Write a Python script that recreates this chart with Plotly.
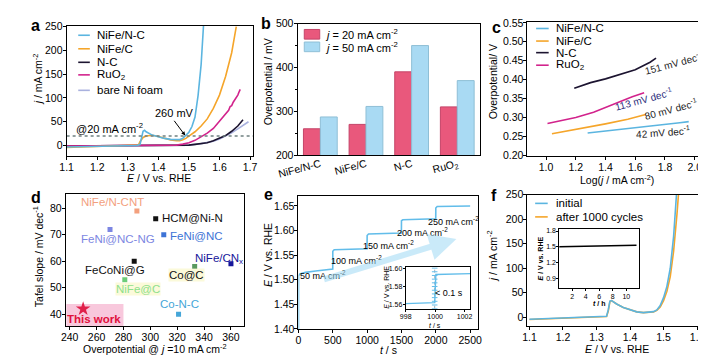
import plotly.graph_objects as go

W, H = 706, 355
FONT = 'Arial, Liberation Sans, sans-serif'

# ---------------- data ----------------
# (a) polarisation curves, E / V vs RHE and j / mA cm-2
a_E_nifenc = [1.10, 1.15, 1.20, 1.25, 1.30, 1.33, 1.34, 1.345, 1.35, 1.355, 1.36, 1.38, 1.40, 1.42, 1.44,
              1.46, 1.47, 1.48, 1.49, 1.50, 1.51, 1.52, 1.53, 1.54, 1.55]
a_j_nifenc = [-3, -2, -1.5, -1, -0.5, 0, 2, 16, 30, 32, 29, 22, 18, 15, 13,
              12, 12.5, 15, 21, 28, 40, 60, 105, 170, 275]
a_E_nifec = [1.10, 1.15, 1.20, 1.25, 1.30, 1.33, 1.335, 1.34, 1.35, 1.36, 1.37, 1.38, 1.40, 1.42, 1.44,
             1.46, 1.47, 1.48, 1.49, 1.50, 1.52, 1.54, 1.56, 1.58, 1.60, 1.62, 1.64, 1.655]
a_j_nifec = [-4, -3, -2, -1, -0.5, 0, 1, 8, 17, 20, 21.5, 21.5, 19, 15, 12,
             10, 10, 12, 15, 20, 29, 41, 56, 78, 106, 145, 195, 250]
a_E_nc = [1.10, 1.20, 1.30, 1.40, 1.46, 1.50, 1.52, 1.54, 1.56, 1.58, 1.60, 1.62, 1.64, 1.66, 1.677]
a_j_nc = [-1, -0.5, -0.5, 0, 0.3, 1, 2.5, 4, 6, 10, 15, 21, 30, 41, 54]
a_E_ruo2 = [1.10, 1.20, 1.30, 1.40, 1.44, 1.46, 1.48, 1.50, 1.52, 1.54, 1.56, 1.58, 1.60, 1.61, 1.615,
            1.62, 1.625, 1.63, 1.635, 1.64, 1.645, 1.65, 1.655, 1.66, 1.665, 1.668]
a_j_ruo2 = [-1, -0.5, 0, 0, 0.5, 1, 3, 6, 11, 18, 26, 36, 52, 58, 63,
            67, 71, 74, 82, 84, 91, 96, 103, 106, 114, 118]
a_E_ni = [1.10, 1.20, 1.30, 1.40, 1.46, 1.50, 1.54, 1.58, 1.60, 1.62, 1.64, 1.66, 1.68, 1.695]
a_j_ni = [-1, -0.5, -0.3, 0, 0.3, 1, 4, 9, 14, 20, 27, 35, 43, 50]
a_ref_j = 20

# (b) overpotentials / mV
b_cats = ['NiFe/N-C', 'NiFe/C', 'N-C', 'RuO<sub>2</sub>']
b_eta20 = [260, 270, 390, 310]
b_eta50 = [287, 311, 450, 370]

# (c) Tafel plots
c_x_nifenc = [1.28, 1.45, 1.60, 1.75, 1.90, 1.96]
c_y_nifenc = [0.259, 0.266, 0.273, 0.280, 0.286, 0.289]
c_x_nifec = [1.04, 1.20, 1.40, 1.55, 1.67]
c_y_nifec = [0.257, 0.268, 0.283, 0.295, 0.308]
c_x_nc = [1.19, 1.30, 1.40, 1.50, 1.60, 1.70, 1.74]
c_y_nc = [0.377, 0.392, 0.402, 0.413, 0.426, 0.446, 0.457]
c_x_ruo2 = [1.01, 1.10, 1.20, 1.32, 1.42, 1.50, 1.58, 1.66]
c_y_ruo2 = [0.284, 0.291, 0.300, 0.314, 0.330, 0.343, 0.355, 0.365]
c_slopes = ['151 mV dec<sup>-1</sup>', '113 mV dec<sup>-1</sup>', '80 mV dec<sup>-1</sup>', '42 mV dec<sup>-1</sup>']

# (d) comparison with literature
d_names = ['NiFe/N-CNT', 'HCM@Ni-N', 'FeNi@NC-NG', 'FeNi@NC', 'NiFe/CN<sub>x</sub>',
           'FeCoNi@G', 'Co@C', 'NiFe@C', 'Co-N-C']
d_eta = [290, 304, 270, 310, 360, 288, 333, 281, 321]
d_tafel = [79, 76, 72, 70, 59, 60, 58, 53, 40]
d_colors = ['#f3a07e', '#111111', '#7c86e2', '#3d73d6', '#16169a', '#111111', '#5a9a60', '#6ccc78', '#45a6d8']
d_this_eta = [250]
d_this_tafel = [42]

# (e) multi-step chronopotentiometry
e_t = [0, 1, 20, 100, 250, 499, 500, 520, 999, 1000, 1020, 1499, 1500, 1520, 1999, 2000, 2020, 2500]
e_E = [1.40, 1.508, 1.512, 1.515, 1.518, 1.522, 1.558, 1.561, 1.563, 1.590, 1.593, 1.595,
       1.620, 1.622, 1.624, 1.646, 1.649, 1.650]
e_steps = ['50 mA cm<sup>-2</sup>', '100 mA cm<sup>-2</sup>', '150 mA cm<sup>-2</sup>',
           '200 mA cm<sup>-2</sup>', '250 mA cm<sup>-2</sup>']
e_in_t = [998, 998.5, 999, 999.5, 999.9, 999.97, 1000.05, 1000.5, 1001, 1001.5, 1002.4]
e_in_E = [1.5615, 1.5617, 1.562, 1.5622, 1.5625, 1.5625, 1.593, 1.5932, 1.5935, 1.5937, 1.594]
e_jump_t = [999.97] * 12
e_jump_E = [1.556, 1.560, 1.564, 1.568, 1.572, 1.576, 1.580, 1.584, 1.588, 1.592, 1.596, 1.600]

# (f) stability
f_E = [1.10, 1.15, 1.20, 1.25, 1.30, 1.32, 1.33, 1.335, 1.34, 1.345, 1.35, 1.36, 1.38, 1.40, 1.42,
       1.44, 1.46, 1.47, 1.48, 1.49, 1.50, 1.51, 1.52, 1.53, 1.54, 1.55]
f_j_init = [-4, -3, -2, -1, 0, 0.5, 2, 15, 33, 34, 31, 27, 20, 15, 11,
            9.5, 10, 11.5, 15, 24, 40, 63, 100, 165, 265, 380]
f_j_after = [-4.5, -3.5, -2.5, -1.5, -0.5, 0.3, 1.5, 12, 32, 34, 31, 27, 20, 15, 11,
             9.5, 10, 11, 14, 21, 34, 53, 83, 135, 210, 300]
f_in_t = [0, 2, 4, 6, 8, 10, 11.5]
f_in_E = [1.50, 1.505, 1.51, 1.515, 1.52, 1.525, 1.53]

C_BLUE = '#5bb5e0'
C_ORANGE = '#f5a52a'
C_NC = '#1c1430'
C_RUO2 = '#d2238c'
C_NI = '#a9b1de'
C_RED = '#e9587c'
C_LBLUE = '#a9daf3'
FS = 10.5   # main tick/title font size
FI = 7      # inset font size


def xd(x0, x1):
    return [x0 / W, x1 / W]


def yd(ytop, ybot):
    return [1 - ybot / H, 1 - ytop / H]


def ax(domain, anchor, **kw):
    d = dict(domain=domain, anchor=anchor, showline=True, linecolor='black', linewidth=1, mirror=True,
             ticks='outside', ticklen=3, tickwidth=1, tickcolor='black', showgrid=False, zeroline=False,
             ticklabelstandoff=-2, tickfont=dict(size=FS, color='black'))
    d.update(kw)
    return d


def inset_ax(domain, anchor, **kw):
    return ax(domain, anchor, ticklen=2, ticklabelstandoff=-1, tickfont=dict(size=FI, color='black'), **kw)


fig = go.Figure()

# ---- a
for E, j, c in [(a_E_ni, a_j_ni, C_NI), (a_E_nc, a_j_nc, C_NC), (a_E_ruo2, a_j_ruo2, C_RUO2),
                (a_E_nifec, a_j_nifec, C_ORANGE), (a_E_nifenc, a_j_nifenc, C_BLUE)]:
    fig.add_trace(go.Scatter(x=E, y=j, mode='lines', line=dict(color=c, width=1.6), xaxis='x', yaxis='y',
                             showlegend=False))
fig.add_trace(go.Scatter(x=[1.1, 1.71], y=[a_ref_j, a_ref_j], mode='lines',
                         line=dict(color='#6f8080', width=1.4, dash='dot'), xaxis='x', yaxis='y', showlegend=False))

# ---- b
fig.add_trace(go.Bar(x=b_cats, y=b_eta20, marker=dict(color=C_RED, line=dict(color='#c44468', width=1)),
                     xaxis='x2', yaxis='y2', showlegend=False))
fig.add_trace(go.Bar(x=b_cats, y=b_eta50, marker=dict(color=C_LBLUE, line=dict(color='#8fbfd6', width=1)),
                     xaxis='x2', yaxis='y2', showlegend=False))

# ---- c
for X, Y, c in [(c_x_nifenc, c_y_nifenc, C_BLUE), (c_x_nifec, c_y_nifec, C_ORANGE),
                (c_x_nc, c_y_nc, C_NC), (c_x_ruo2, c_y_ruo2, C_RUO2)]:
    fig.add_trace(go.Scatter(x=X, y=Y, mode='lines', line=dict(color=c, width=1.6), xaxis='x3', yaxis='y3',
                             showlegend=False))

# ---- d
fig.add_trace(go.Scatter(x=d_eta, y=d_tafel, mode='markers', marker=dict(symbol='square', size=5, color=d_colors),
                         xaxis='x4', yaxis='y4', showlegend=False))
fig.add_trace(go.Scatter(x=d_this_eta, y=d_this_tafel, mode='markers',
                         marker=dict(symbol='star', size=11, color='#e0204a'),
                         xaxis='x4', yaxis='y4', showlegend=False))

# ---- e
fig.add_trace(go.Scatter(x=e_t, y=e_E, mode='lines', line=dict(color='#62bdea', width=1.6), xaxis='x5', yaxis='y5',
                         showlegend=False))
fig.add_trace(go.Scatter(x=e_jump_t, y=e_jump_E, mode='lines+markers',
                         line=dict(color='#9ab0c0', width=1, dash='dot'),
                         marker=dict(symbol='line-ew', size=4, line=dict(color='#62bdea', width=1)),
                         xaxis='x7', yaxis='y7', showlegend=False))
fig.add_trace(go.Scatter(x=e_in_t, y=e_in_E, mode='lines', line=dict(color='#62bdea', width=1.4),
                         xaxis='x7', yaxis='y7', showlegend=False))

# ---- f
fig.add_trace(go.Scatter(x=f_E, y=f_j_after, mode='lines', line=dict(color=C_ORANGE, width=1.6),
                         xaxis='x6', yaxis='y6', showlegend=False))
fig.add_trace(go.Scatter(x=f_E, y=f_j_init, mode='lines', line=dict(color=C_BLUE, width=1.6),
                         xaxis='x6', yaxis='y6', showlegend=False))
fig.add_trace(go.Scatter(x=f_in_t, y=f_in_E, mode='lines', line=dict(color='black', width=1.5),
                         xaxis='x8', yaxis='y8', showlegend=False))

fig.update_layout(
    width=W, height=H, margin=dict(l=0, r=0, t=0, b=0),
    paper_bgcolor='white', plot_bgcolor='white',
    font=dict(family=FONT, size=FS, color='black'),
    barmode='group', bargap=0.26, bargroupgap=0,
    xaxis=ax(xd(40, 233), 'y', range=[1.1, 1.71], dtick=0.1, tickformat='.1f'),
    yaxis=ax(yd(12, 147), 'x', range=[-22, 252], dtick=50),
    xaxis2=ax(xd(279, 468), 'y2', range=[-0.5, 3.5], tickangle=-15, ticks=''),
    yaxis2=ax(yd(10, 146), 'x2', range=[200, 500], dtick=100,
              minor=dict(ticks='outside', ticklen=2, dtick=50, tickcolor='black')),
    xaxis3=ax(xd(517, 704), 'y3', range=[0.875, 2.09], dtick=0.2, tickformat='.1f'),
    yaxis3=ax(yd(8, 147), 'x3', range=[0.198, 0.553], dtick=0.05, tickformat='.2f'),
    xaxis4=ax(xd(39, 224), 'y4', range=[237, 370], dtick=20),
    yaxis4=ax(yd(186, 323), 'x4', range=[35.5, 85.5], dtick=10),
    xaxis5=ax(xd(280, 466), 'y5', range=[0, 2617], dtick=500),
    yaxis5=ax(yd(188, 326), 'x5', range=[1.40, 1.671], dtick=0.05, tickformat='.2f'),
    xaxis6=ax(xd(517, 702), 'y6', range=[1.094, 1.627], dtick=0.1, tickformat='.1f'),
    yaxis6=ax(yd(187, 323), 'x6', range=[-18, 250], dtick=50),
    xaxis7=inset_ax(xd(391, 458), 'y7', range=[998, 1002.4], tickvals=[998, 1000, 1002]),
    yaxis7=inset_ax(yd(262, 305), 'x7', range=[1.556, 1.601], tickvals=[1.56, 1.58, 1.60], tickformat='.2f'),
    xaxis8=inset_ax(xd(550, 632), 'y8', range=[0.1, 11.8], tickvals=[2, 4, 6, 8, 10]),
    yaxis8=inset_ax(yd(223, 284), 'x8', range=[0.71, 1.83], tickvals=[0.9, 1.2, 1.5, 1.8], tickformat='.1f'),
)

shapes = []
ann = []


def p(x, y):
    return x / W, 1 - y / H


def leg_line(x0, x1, y, color):
    a0, b0 = p(x0, y)
    a1, _ = p(x1, y)
    shapes.append(dict(type='line', xref='paper', yref='paper', x0=a0, x1=a1, y0=b0, y1=b0,
                       line=dict(color=color, width=1.6)))


def text(x, y, s, size=11.5, color='black', xanchor='left', **kw):
    a, b = p(x, y)
    ann.append(dict(xref='paper', yref='paper', x=a, y=b, text=s, showarrow=False, xanchor=xanchor,
                    yanchor='middle', font=dict(size=size, color=color, family=FONT), **kw))


# axis titles
for s, x, y, ang, size in [
        ('<i>E</i> / V vs. RHE', 136, 170, 0, FS), ('<i>j</i> / mA cm<sup>-2</sup>', 10, 68, -90, FS),
        ('Overpotential / mV', 248, 70, -90, FS),
        ('Log(<i>j</i> / mA cm<sup>-2</sup>)', 610, 171, 0, FS), ('Overpotential/ V', 481, 70, -90, FS),
        ('Overpotential @ <i>j</i> =10 mA cm<sup>-2</sup>', 131, 346.5, 0, FS),
        ('Tafel slope / mV dec<sup>-1</sup>', 10, 251, -90, FS),
        ('<i>t</i> / s', 373, 347.5, 0, FS), ('<i>E</i> / V vs. RHE', 248, 250, -90, FS),
        ('<i>E</i> / V vs. RHE', 610, 347, 0, FS), ('<i>j</i> / mA cm<sup>-2</sup>', 480, 251, -90, FS),
        ('<i>t</i> / s', 421, 322, 0, FI), ('<i>E</i> / V vs. RHE', 371, 283, -90, FI),
        ('<b><i>t</i> / h</b>', 591, 300, 0, FI), ('<b><i>E</i> / V vs. RHE</b>', 530, 253, -90, FI)]:
    text(x, y, s, size=size, xanchor='center', textangle=ang)

# panel letters
for lab, x, y in [('a', 1, 12), ('b', 239, 10), ('c', 478, 14), ('d', 1, 190), ('e', 242, 187), ('f', 477, 188)]:
    text(x, y, '<b>%s</b>' % lab, size=16)

# legend a
for name, c, y in [('NiFe/N-C', C_BLUE, 22), ('NiFe/C', C_ORANGE, 36), ('N-C', C_NC, 50),
                   ('RuO<sub>2</sub>', C_RUO2, 63), ('bare Ni foam', C_NI, 79)]:
    leg_line(52, 64, y, c)
    text(69, y, name)

# legend b
for name, c, lc, y in [('<i>j</i> = 20 mA cm<sup>-2</sup>', C_RED, '#c44468', 21),
                       ('<i>j</i> = 50 mA cm<sup>-2</sup>', C_LBLUE, '#8fbfd6', 34)]:
    a0, b0 = p(286, y - 5)
    a1, b1 = p(302, y + 5)
    shapes.append(dict(type='rect', xref='paper', yref='paper', x0=a0, x1=a1, y0=b1, y1=b0,
                       fillcolor=c, line=dict(color=lc, width=1)))
    text(305, y, name, size=11)

# legend c
for name, c, y in [('NiFe/N-C', C_BLUE, 15), ('NiFe/C', C_ORANGE, 28), ('N-C', C_NC, 40),
                   ('RuO<sub>2</sub>', C_RUO2, 53)]:
    leg_line(526, 539, y, c)
    text(544, y, name)

# legend f
for name, c, y in [('initial', C_BLUE, 196), ('after 1000 cycles', C_ORANGE, 210)]:
    leg_line(525, 538, y, c)
    text(544, y, name)

# a annotations
ann.append(dict(xref='x', yref='y', x=1.24, y=36, text='@20 mA cm<sup>-2</sup>', showarrow=False,
                font=dict(size=11)))
ann.append(dict(xref='x', yref='y', x=1.488, y=21, ax=1.452, ay=52, axref='x', ayref='y', text='260 mV',
                showarrow=True, arrowhead=2, arrowsize=0.8, arrowwidth=1, arrowcolor='black', font=dict(size=11),
                yanchor='bottom'))

# c slope labels
for s, x, y, ang, col in [(c_slopes[0], 1.86, 0.444, -15, '#222222'), (c_slopes[1], 1.655, 0.350, -15, '#2a2a7a'),
                          (c_slopes[2], 1.84, 0.321, -15, '#222222'), (c_slopes[3], 1.785, 0.262, -4, '#222222')]:
    ann.append(dict(xref='x3', yref='y3', x=x, y=y, text=s, showarrow=False, textangle=ang,
                    font=dict(size=10, color=col)))

# d labels
d_lab = [(272, 82.4, 'center', '#f3a07e'), (307, 76.4, 'left', '#111111'), (276, 68.3, 'center', '#7c86e2'),
         (313, 69.5, 'left', '#3d73d6'), (351, 61, 'center', '#16169a'), (274, 56.7, 'center', '#111111'),
         (327, 54.7, 'center', '#111111'), (291, 49.6, 'center', '#8ee08a'), (322, 43.8, 'center', '#45a6d8')]
for name, (x, y, xa, col) in zip(d_names, d_lab):
    extra = {}
    if name in ('NiFe@C', 'Co@C'):
        extra = dict(bgcolor='rgba(250,248,205,0.75)', borderpad=0)
    ann.append(dict(xref='x4', yref='y4', x=x, y=y, text=name, showarrow=False, xanchor=xa,
                    font=dict(size=11.5, color=col), **extra))
shapes.append(dict(type='rect', xref='x4', yref='y4', x0=237.5, x1=280, y0=35.5, y1=43.8, fillcolor='#f8c8dc',
                   line=dict(width=0), layer='below'))
ann.append(dict(xref='x4', yref='y4', x=258, y=38.3, text='<b>This work</b>', showarrow=False,
                font=dict(size=11.5, color='#e0103c')))

# e labels
for s, x, y in zip(e_steps, [350, 850, 1315, 1805, 2260], [1.509, 1.541, 1.571, 1.597, 1.619]):
    ann.append(dict(xref='x5', yref='y5', x=x, y=y, text=s, showarrow=False, font=dict(size=9)))
ann.append(dict(xref='x5', yref='y5', x=2300, y=1.583, ax=350, ay=1.500, axref='x5', ayref='y5', text='',
                showarrow=True, arrowhead=2, arrowsize=0.9, arrowwidth=6, arrowcolor='rgba(160,218,245,0.55)'))
ann.append(dict(xref='x7', yref='y7', x=1000.95, y=1.573, text='< 0.1 s', showarrow=False, font=dict(size=9)))

fig.update_layout(shapes=shapes, annotations=ann)
fig.write_html("out.html")
